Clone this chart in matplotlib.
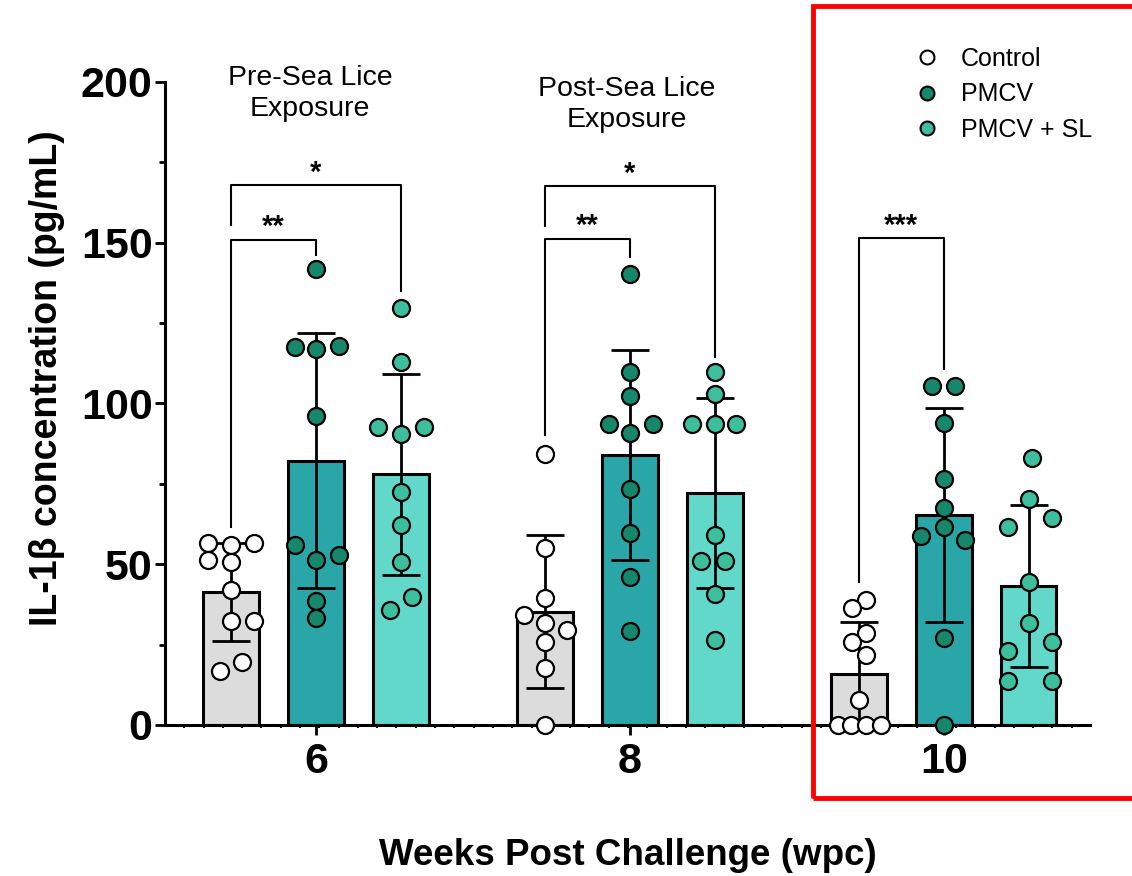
import numpy as np
import matplotlib
matplotlib.use('Agg')
import matplotlib.pyplot as plt
from matplotlib.lines import Line2D
from matplotlib.patches import Rectangle

plt.rcParams['font.family'] = ['Liberation Sans', 'DejaVu Sans']

# weeks post challenge
weeks = ['6', '8', '10']
groups = ['Control', 'PMCV', 'PMCV + SL']

# individual fish values (pg/mL)
control = [
    [56.5, 56.0, 56.5, 51.3, 50.7, 42.0, 32.3, 32.3, 19.6, 16.7],
    [84.4, 54.9, 39.4, 34.2, 31.6, 29.5, 25.9, 17.6, 0.0],
    [38.9, 36.3, 28.5, 25.9, 21.8, 7.8, 0.0, 0.0, 0.0, 0.0],
]
pmcv = [
    [141.7, 117.5, 117.0, 118.0, 96.2, 55.9, 51.3, 53.0, 38.6, 33.4],
    [140.3, 109.8, 102.3, 93.7, 93.7, 90.8, 73.5, 59.7, 45.9, 29.1],
    [105.4, 105.4, 93.9, 76.6, 67.4, 61.6, 58.8, 57.6, 27.1, 0.0],
]
pmcv_sl = [
    [129.6, 112.9, 92.7, 90.4, 92.7, 72.6, 62.2, 50.7, 39.7, 35.7],
    [109.8, 102.9, 93.7, 93.7, 93.7, 59.1, 51.0, 51.0, 40.7, 26.3],
    [82.9, 70.3, 61.6, 64.5, 44.4, 31.7, 25.9, 23.0, 13.8, 13.8],
]

# horizontal scatter of the dots (in dot-widths)
control_jit = [
    [-1, 0, 1, -1, 0, 0, 0, 1, 0.5, -0.5],
    [0, 0, 0, -0.9, 0, 0.95, 0, 0, 0],
    [0.3, -0.3, 0.3, -0.3, 0.3, 0, -0.9, -0.35, 0.3, 0.95],
]
pmcv_jit = [
    [0, -0.92, 0, 1, 0, -0.92, 0, 1, 0, 0],
    [0, 0, 0, -0.92, 1, 0, 0, 0, 0, 0],
    [-0.5, 0.5, 0, 0, 0, 0, -1, 0.92, 0, 0],
]
pmcv_sl_jit = [
    [0, 0, -1, 0, 1, 0, 0, 0, 0.46, -0.46],
    [0, 0, -1, 0, 0.92, 0, -0.6, 0.46, 0, 0],
    [0.15, 0, -0.92, 1, 0, 0, 1, -0.92, -0.92, 1],
]

# significance brackets: (week index, group a, group b, label)
sig = [
    (0, 0, 2, '*'), (0, 0, 1, '**'),
    (1, 0, 2, '*'), (1, 0, 1, '**'),
    (2, 0, 1, '***'),
]
# bracket height, left leg end, right leg end
sig_y = [
    (168, 155.5, 135), (151, 61.6, 146.3),
    (167.7, 155.3, 114.4), (151.3, 90.2, 145.5),
    (151.5, 44.4, 110.6),
]

bar_fill = ['#dcdcdc', '#2aa6a8', '#62d8cb']
dot_fill = ['white', '#16876a', '#3dbf9e']

fig = plt.figure(figsize=(11.32, 8.76), dpi=100)
ax = fig.add_axes([0.1458, 0.1724, 0.817, 0.734])

centers = np.array([0.0, 3.694, 7.388])
offs = [-1, 0, 1]
width = 0.65
step = 0.27

data = [control, pmcv, pmcv_sl]
jits = [control_jit, pmcv_jit, pmcv_sl_jit]

for g in range(3):
    for w in range(3):
        vals = np.array(data[g][w])
        x = centers[w] + offs[g]
        m = vals.mean()
        sd = vals.std(ddof=1)
        ax.bar(x, m, width=width, color=bar_fill[g], edgecolor='black',
               linewidth=2.2, zorder=2)
        ax.errorbar(x, m, yerr=sd, color='black', capsize=14, capthick=2,
                    elinewidth=2, zorder=3)
        xs = x + np.array(jits[g][w]) * step
        ax.scatter(xs, vals, s=150, facecolor=dot_fill[g], edgecolor='black',
                   linewidth=1.6, zorder=4, clip_on=False)

for (w, a, b, lab), (yb, la, lb) in zip(sig, sig_y):
    xa = centers[w] + offs[a]
    xb = centers[w] + offs[b]
    ax.plot([xa, xa, xb, xb], [la, yb, yb, lb], color='black', lw=1.5,
            zorder=5, clip_on=False)
    ax.text((xa + xb) / 2, yb - 0.5, lab, ha='center', va='bottom',
            fontsize=21, fontweight='bold', clip_on=False)

ax.text(-0.07, 196.5, 'Pre-Sea Lice\nExposure', ha='center', va='center',
        fontsize=20.5, linespacing=1.25, clip_on=False)
ax.text(3.66, 193, 'Post-Sea Lice\nExposure', ha='center', va='center',
        fontsize=20.5, linespacing=1.25, clip_on=False)

ax.set_xlim(-1.776, 9.106)
ax.set_ylim(0, 200)
ax.set_xticks(centers)
ax.set_xticklabels(weeks)
ax.set_xticks(np.arange(-1.55, 9.1, 0.227), minor=True)
ax.set_yticks([0, 50, 100, 150, 200])
ax.set_yticks([25, 75, 125, 175], minor=True)

for side in ['top', 'right']:
    ax.spines[side].set_visible(False)
for side in ['left', 'bottom']:
    ax.spines[side].set_linewidth(2.2)

ax.tick_params(axis='both', which='major', length=7, width=2, labelsize=31)
ax.tick_params(axis='y', which='major', pad=2)
ax.tick_params(axis='x', which='major', pad=5)
ax.tick_params(axis='x', which='minor', length=2.5, width=1.5)
ax.tick_params(axis='y', which='minor', length=4, width=2)
for t in ax.get_xticklabels() + ax.get_yticklabels():
    t.set_fontweight('bold')

ax.set_ylabel('IL-1β concentration (pg/mL)', fontsize=27, fontweight='bold')
ax.yaxis.set_label_coords(-0.108, 0.54)
ax.set_xlabel('Weeks Post Challenge (wpc)', fontsize=26.5, fontweight='bold')
ax.xaxis.set_label_coords(0.5, -0.176)

handles = [Line2D([], [], marker='o', ls='none', markersize=10,
                  markerfacecolor=dot_fill[i], markeredgecolor='black',
                  markeredgewidth=1.5, label=groups[i]) for i in range(3)]
fig.legend(handles=handles, loc='upper left', bbox_to_anchor=(0.786, 0.972),
           frameon=False, fontsize=18, handletextpad=0.75, labelspacing=0.45,
           handlelength=1.2)

# red highlight box around 10 wpc
fig.patches.append(Rectangle((813 / 1132, 1 - 798 / 876), 0.3, 792 / 876,
                             transform=fig.transFigure, fill=False,
                             edgecolor='red', linewidth=3.5))

fig.savefig('out.png', dpi=100)
